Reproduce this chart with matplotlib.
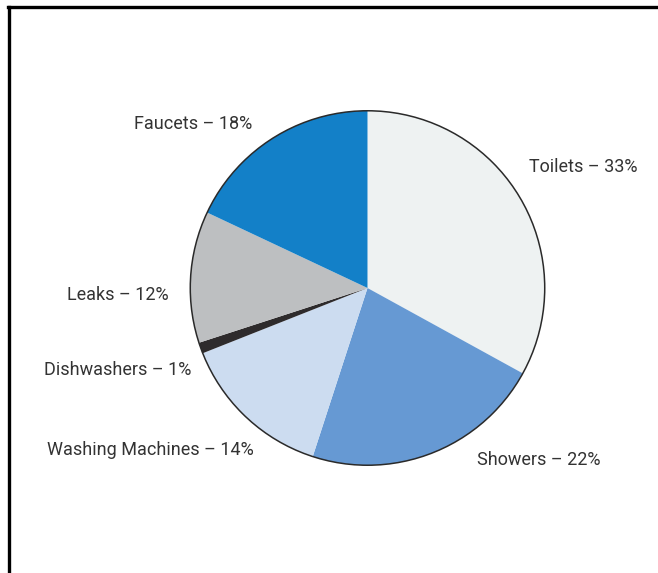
import matplotlib
matplotlib.use("Agg")
import matplotlib.pyplot as plt
from matplotlib.lines import Line2D
from matplotlib.patches import Circle

plt.rcParams['font.family'] = ['Roboto', 'DejaVu Sans']

# Household water use by fixture
categories = ["Toilets", "Showers", "Washing Machines", "Dishwashers", "Leaks", "Faucets"]
shares = [33, 22, 14, 1, 12, 18]
colors = ["#eef2f2", "#6699d3", "#ccdcf0", "#2e2b2c", "#bdbfc1", "#1380c8"]

W, H = 658, 573
fig = plt.figure(figsize=(W / 100, H / 100), dpi=100)

# pie centre and radius in pixels
cx, cy, r = 367.5, 288, 179
ax = fig.add_axes([(cx - r) / W, (H - cy - r) / H, 2 * r / W, 2 * r / H])
ax.pie(shares, colors=colors, startangle=90, counterclock=False,
       radius=1, wedgeprops=dict(linewidth=0))
ax.add_patch(Circle((0, 0), 1, fill=False, edgecolor="#2a2a2a", linewidth=1.1))
ax.set_xlim(-1.01, 1.01)
ax.set_ylim(-1.01, 1.01)
ax.set_aspect("equal")
ax.axis("off")

# labels: (left x px, centre y px)
label_pos = {
    "Faucets": (134, 124),
    "Toilets": (529, 167),
    "Leaks": (67, 295),
    "Dishwashers": (44, 370),
    "Washing Machines": (47, 450),
    "Showers": (477, 460),
}
for name, val in zip(categories, shares):
    x, y = label_pos[name]
    fig.text(x / W, 1 - y / H, f"{name} \u2013 {val}%", fontsize=13,
             color="#333333", ha="left", va="center")

# frame lines along the top and left edge
fig.add_artist(Line2D([8 / W, 1], [1 - 7 / H, 1 - 7 / H], color="black",
                      linewidth=2.4, solid_capstyle="projecting",
                      transform=fig.transFigure))
fig.add_artist(Line2D([9 / W, 9 / W], [0, 1 - 7 / H], color="black",
                      linewidth=2.4, solid_capstyle="projecting",
                      transform=fig.transFigure))

fig.savefig("out.png", dpi=100, facecolor="white")
